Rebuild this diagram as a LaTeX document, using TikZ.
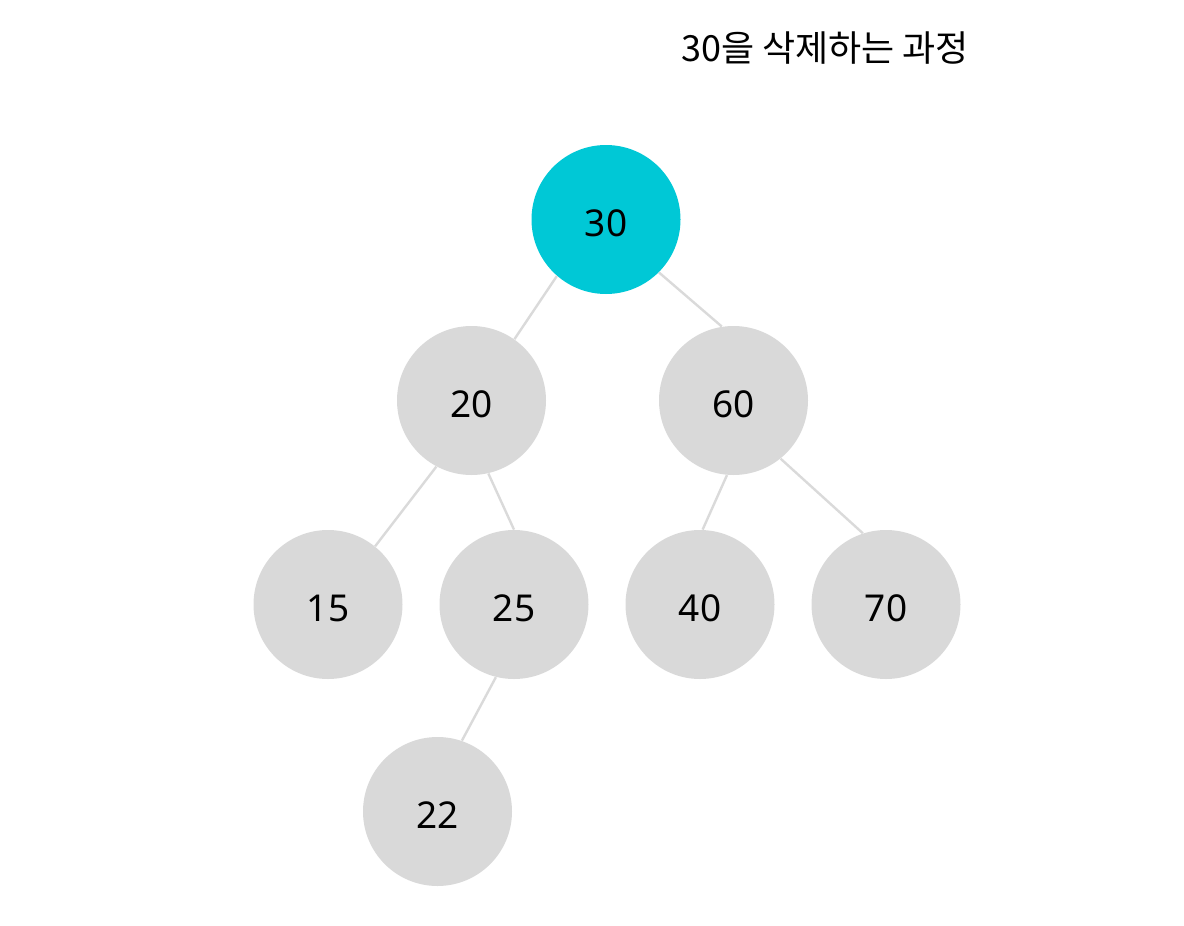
\documentclass[tikz,border=0pt]{standalone}
\usepackage{fontspec}
\setmainfont{Noto Sans}
\newfontfamily\kor{Noto Sans CJK KR}
\usetikzlibrary{positioning}
\definecolor{treeGray}{HTML}{D9D9D9}
\definecolor{treeLine}{HTML}{DADADA}
\definecolor{treeCyan}{HTML}{00C8D6}

\begin{document}
\begin{tikzpicture}[
  x=0.5pt,y=0.5pt,
  key/.style={circle, fill=treeGray, minimum size=74.5pt, inner sep=0pt,
    font=\fontsize{18.5}{22}\selectfont, text height=16.5pt, text depth=0pt},
  hit/.style={key, fill=treeCyan},
  link/.style={draw=treeLine, line width=1.2pt},
  ttl/.style={font=\kor\fontsize{18}{22}\selectfont}
]
\useasboundingbox (0,0) rectangle (1184,-926);
\node[ttl] (title) at (825,-48) {30을 삭제하는 과정};

% tree nodes
\node[hit] (n30) at (606,-219.5) {30};
\node[key] (n20) at (471.5,-400.5) {20};
\node[key] (n60) at (733.5,-400.5) {60};
\node[key] (n15) at (328,-604.5) {15};
\node[key] (n25) at (514,-604.5) {25};
\node[key] (n40) at (700,-604.5) {40};
\node[key] (n70) at (886,-604.5) {70};
\node[key] (n22) at (437.5,-811.5) {22};

% edges
\draw[link] (n30.229) -- (n20.55);
\draw[link] (n30.-45) -- (n60.99);
\draw[link] (n20.242) -- (n15.51);
\draw[link] (n20.-77) -- (n25.90);
\draw[link] (n60.265) -- (n40.88);
\draw[link] (n60.-51) -- (n70.108);
\draw[link] (n25.256) -- (n22.71);
\end{tikzpicture}
\end{document}
